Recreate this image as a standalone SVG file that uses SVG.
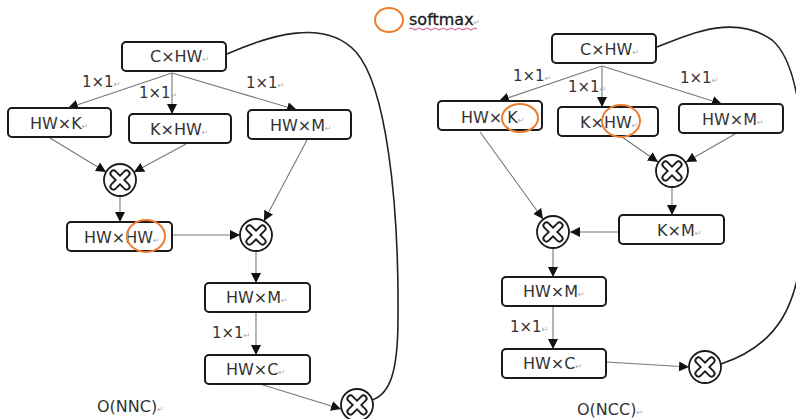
<svg xmlns="http://www.w3.org/2000/svg" width="796" height="419" viewBox="0 0 796 419">
<defs>
<style>
.box{fill:#fff;stroke:#1a1a1a;stroke-width:2}
.t{font-family:"DejaVu Sans",Verdana,sans-serif;font-size:16px;fill:#333}
.l{font-family:"DejaVu Sans",Verdana,sans-serif;font-size:15px;fill:#333}
.p{font-size:8px;fill:#aaa}
.ln{stroke:#777;stroke-width:1.1;fill:none}
.cv{stroke:#222;stroke-width:1.6;fill:none}
.oc{fill:none;stroke:#ED7D31;stroke-width:2}
.mc{fill:#fff;stroke:#1a1a1a;stroke-width:1.8}
.xo{stroke:#1a1a1a;stroke-width:8;stroke-linecap:round}
.xi{stroke:#fff;stroke-width:4.2;stroke-linecap:round}
</style>
<marker id="ah" markerUnits="userSpaceOnUse" markerWidth="11" markerHeight="10" refX="10" refY="5" orient="auto">
<path d="M0,0 L10,5 L0,10 z" fill="#111"/>
</marker>
<g id="mul">
<circle class="mc" r="16"/>
<line class="xo" x1="-6.5" y1="-6.5" x2="6.5" y2="6.5"/>
<line class="xo" x1="-6.5" y1="6.5" x2="6.5" y2="-6.5"/>
<line class="xi" x1="-6.5" y1="-6.5" x2="6.5" y2="6.5"/>
<line class="xi" x1="-6.5" y1="6.5" x2="6.5" y2="-6.5"/>
</g>
</defs>
<rect width="796" height="419" fill="#fff"/>

<g id="legend">
<ellipse class="oc" cx="389" cy="20" rx="14" ry="12"/>
<text class="t" x="409" y="25" style="fill:#1a1a1a;stroke:#1a1a1a;stroke-width:0.3">softmax<tspan class="p" style="stroke:none">↵</tspan></text>
<path d="M409,29 q2,-2 4,0 t4,0 t4,0 t4,0 t4,0 t4,0 t4,0 t4,0 t4,0 t4,0 t4,0 t4,0 t4,0 t4,0 t4,0 t4,0 t4,0" stroke="#d04a8a" stroke-width="1" fill="none"/>
</g>

<g id="connectors">
<!-- left -->
<line class="ln" x1="172" y1="73" x2="68" y2="108" marker-end="url(#ah)"/>
<line class="ln" x1="172" y1="73" x2="172" y2="114" marker-end="url(#ah)"/>
<line class="ln" x1="172" y1="73" x2="297" y2="110" marker-end="url(#ah)"/>
<line class="ln" x1="50" y1="138" x2="106" y2="172" marker-end="url(#ah)"/>
<line class="ln" x1="186" y1="144" x2="134" y2="172" marker-end="url(#ah)"/>
<line class="ln" x1="120" y1="196" x2="120" y2="222" marker-end="url(#ah)"/>
<line class="ln" x1="307" y1="140" x2="264" y2="221" marker-end="url(#ah)"/>
<line class="ln" x1="173" y1="235" x2="240" y2="235" marker-end="url(#ah)"/>
<line class="ln" x1="256" y1="251" x2="256" y2="283" marker-end="url(#ah)"/>
<line class="ln" x1="256" y1="312" x2="256" y2="355" marker-end="url(#ah)"/>
<line class="ln" x1="260" y1="384" x2="341" y2="409" marker-end="url(#ah)"/>
<path class="cv" d="M227,54 C270,35 325,18 356,52 C386,86 399,200 398,318 C398,372 390,394 372,400"/>
<!-- right -->
<line class="ln" x1="602" y1="66" x2="499" y2="101" marker-end="url(#ah)"/>
<line class="ln" x1="602" y1="66" x2="602" y2="107" marker-end="url(#ah)"/>
<line class="ln" x1="602" y1="66" x2="722" y2="104" marker-end="url(#ah)"/>
<line class="ln" x1="480" y1="132" x2="543" y2="219" marker-end="url(#ah)"/>
<line class="ln" x1="622" y1="137" x2="658" y2="162" marker-end="url(#ah)"/>
<line class="ln" x1="735" y1="134" x2="686" y2="162" marker-end="url(#ah)"/>
<line class="ln" x1="672" y1="186" x2="672" y2="215" marker-end="url(#ah)"/>
<line class="ln" x1="619" y1="232" x2="570" y2="232" marker-end="url(#ah)"/>
<line class="ln" x1="553" y1="248" x2="553" y2="277" marker-end="url(#ah)"/>
<line class="ln" x1="553" y1="306" x2="553" y2="349" marker-end="url(#ah)"/>
<line class="ln" x1="606" y1="362" x2="689" y2="367" marker-end="url(#ah)"/>
<path class="cv" d="M657,47 C692,33 735,14 772,40 C802,65 806,150 803,232 C800,305 778,345 721,364"/>
</g>

<g id="labels">
<text class="l" x="82" y="87">1×1<tspan class="p">↵</tspan></text>
<text class="l" x="139" y="98">1×1<tspan class="p">↵</tspan></text>
<text class="l" x="246" y="88">1×1<tspan class="p">↵</tspan></text>
<text class="l" x="212" y="338">1×1<tspan class="p">↵</tspan></text>
<text class="l" x="513" y="81">1×1<tspan class="p">↵</tspan></text>
<text class="l" x="568" y="92">1×1<tspan class="p">↵</tspan></text>
<text class="l" x="680" y="83">1×1<tspan class="p">↵</tspan></text>
<text class="l" x="510" y="332">1×1<tspan class="p">↵</tspan></text>
<text class="t" x="97" y="412">O(NNC)<tspan class="p">↵</tspan></text>
<text class="t" x="577" y="415">O(NCC)<tspan class="p">↵</tspan></text>
</g>

<!-- left diagram nodes -->
<g id="L_CxHW"><rect class="box" x="122" y="42" width="104" height="29" rx="4"/><text class="t" x="150" y="62">C×HW<tspan class="p">↵</tspan></text></g>
<g id="L_HWxK"><rect class="box" x="8" y="108" width="103" height="29" rx="4"/><text class="t" x="30" y="129">HW×K<tspan class="p">↵</tspan></text></g>
<g id="L_KxHW"><rect class="box" x="129" y="114" width="102" height="29" rx="4"/><text class="t" x="150" y="135">K×HW<tspan class="p">↵</tspan></text></g>
<g id="L_HWxM"><rect class="box" x="248" y="110" width="103" height="29" rx="4"/><text class="t" x="270" y="131">HW×M<tspan class="p">↵</tspan></text></g>
<g id="L_mul1"><use href="#mul" x="120" y="180"/></g>
<g id="L_HWxHW"><rect class="box" x="67" y="222" width="105" height="29" rx="4"/><text class="t" x="84" y="243">HW×HW<tspan class="p">↵</tspan></text><ellipse class="oc" cx="146" cy="236" rx="19" ry="16"/></g>
<g id="L_mul2"><use href="#mul" x="256" y="235"/></g>
<g id="L_HWxM2"><rect class="box" x="205" y="283" width="105" height="29" rx="4"/><text class="t" x="226" y="303">HW×M<tspan class="p">↵</tspan></text></g>
<g id="L_HWxC"><rect class="box" x="205" y="355" width="105" height="29" rx="4"/><text class="t" x="226" y="375">HW×C<tspan class="p">↵</tspan></text></g>
<g id="L_mul3"><use href="#mul" x="357" y="405"/></g>

<!-- right diagram nodes -->
<g id="R_CxHW"><rect class="box" x="552" y="34" width="104" height="29" rx="4"/><text class="t" x="580" y="55">C×HW<tspan class="p">↵</tspan></text></g>
<g id="R_HWxK"><rect class="box" x="438" y="101" width="104" height="29" rx="4"/><text class="t" x="461" y="123">HW× K<tspan class="p">↵</tspan></text><ellipse class="oc" cx="520" cy="118" rx="18" ry="14"/></g>
<g id="R_KxHW"><rect class="box" x="558" y="107" width="100" height="29" rx="4"/><text class="t" x="580" y="128">K×HW<tspan class="p">↵</tspan></text><ellipse class="oc" cx="621" cy="121" rx="19" ry="16"/></g>
<g id="R_HWxM"><rect class="box" x="679" y="104" width="104" height="29" rx="4"/><text class="t" x="702" y="125">HW×M<tspan class="p">↵</tspan></text></g>
<g id="R_mul1"><use href="#mul" x="672" y="171"/></g>
<g id="R_KxM"><rect class="box" x="619" y="215" width="105" height="29" rx="4"/><text class="t" x="657" y="236">K×M<tspan class="p">↵</tspan></text></g>
<g id="R_mul2"><use href="#mul" x="553" y="232"/></g>
<g id="R_HWxM2"><rect class="box" x="502" y="277" width="104" height="29" rx="4"/><text class="t" x="523" y="297">HW×M<tspan class="p">↵</tspan></text></g>
<g id="R_HWxC"><rect class="box" x="502" y="349" width="104" height="29" rx="4"/><text class="t" x="523" y="369">HW×C<tspan class="p">↵</tspan></text></g>
<g id="R_mul3"><use href="#mul" x="705" y="367"/></g>
</svg>
